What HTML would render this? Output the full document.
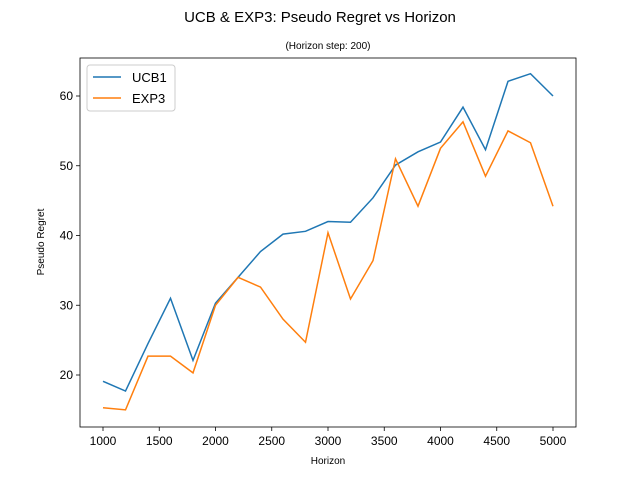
<!DOCTYPE html>
<html><head><meta charset="utf-8"><style>
body{margin:0;background:#fff}
svg text{font-family:"Liberation Sans","DejaVu Sans",sans-serif}
</style></head><body>
<svg id="chart" width="640" height="480" xmlns="http://www.w3.org/2000/svg">
<text x="320" y="22" text-anchor="middle" font-size="15">UCB &amp; EXP3: Pseudo Regret vs Horizon</text>
<text x="328" y="49" text-anchor="middle" font-size="10">(Horizon step: 200)</text>
<g id="plot"></g>
</svg>
<script>
const horizons=[1000,1200,1400,1600,1800,2000,2200,2400,2600,2800,3000,3200,3400,3600,3800,4000,4200,4400,4600,4800,5000];
const ucb1=[19.1,17.7,24.5,31.0,22.1,30.3,34.0,37.7,40.2,40.6,42.0,41.9,45.4,50.1,52.0,53.4,58.4,52.3,62.1,63.2,60.0];
const exp3=[15.3,15.0,22.7,22.7,20.3,30.0,34.0,32.6,28.0,24.7,40.4,30.9,36.4,51.0,44.2,52.5,56.3,48.5,55.0,53.3,44.2];
const xTicks=[1000,1500,2000,2500,3000,3500,4000,4500,5000];
const yTicks=[20,30,40,50,60];
const L=80,R=576,T=58,B=427;
const xs=v=>103+(v-1000)*450/4000;
const ys=v=>375-(v-20)*279/40;
const NS="http://www.w3.org/2000/svg";
const g=document.getElementById('plot');
function mk(tag,attrs,parent){const e=document.createElementNS(NS,tag);for(const k in attrs)e.setAttribute(k,attrs[k]);(parent||g).appendChild(e);return e;}
xTicks.forEach(t=>{const x=xs(t);
 const l=mk('line',{x1:x,x2:x,y1:B,y2:B+4,stroke:'#000','stroke-width':0.8});
 
 
 const tx=mk('text',{x:x,y:B+18,'text-anchor':'middle','font-size':12});tx.textContent=t;
 
 });
yTicks.forEach(t=>{const y=ys(t);
 const l=mk('line',{x1:L-4,x2:L,y1:y,y2:y,stroke:'#000','stroke-width':0.8});
 
 
 const tx=mk('text',{x:L-7,y:y+4,'text-anchor':'end','font-size':12});tx.textContent=t;
 
 });
function line(vals,color,name){const p=mk('polyline',{points:horizons.map((h,i)=>xs(h)+','+ys(vals[i])).join(' '),fill:'none',stroke:color,'stroke-width':1.5});
 
 }
line(ucb1,'#1f77b4','ucb1-line');
line(exp3,'#ff7f0e','exp3-line');
const fr=mk('rect',{x:L,y:T,width:R-L,height:B-T,fill:'none',stroke:'#000','stroke-width':0.8});


const xl=mk('text',{x:328,y:464,'text-anchor':'middle','font-size':10});xl.textContent='Horizon';


const yl=mk('text',{x:44,y:242,'text-anchor':'middle','font-size':10,transform:'rotate(-90 44 242)'});yl.textContent='Pseudo Regret';


const lg=mk('g',{});


mk('rect',{x:87,y:65,width:88,height:46,rx:3,fill:'#fff',stroke:'#ccc','stroke-width':1},lg);
[['UCB1','#1f77b4',77],['EXP3','#ff7f0e',98]].forEach(([n,c,y])=>{
 const ln=mk('line',{x1:93,x2:121,y1:y,y2:y,stroke:c,'stroke-width':1.5},lg);
 
 
 const t=mk('text',{x:132,y:y+5,'font-size':13},lg);t.textContent=n;
 
 });
</script>
</body></html>
